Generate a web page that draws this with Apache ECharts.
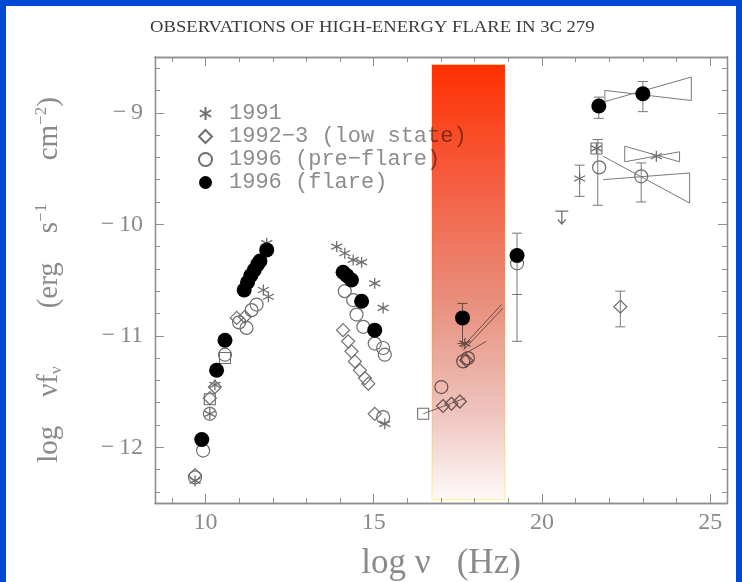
<!DOCTYPE html>
<html>
<head>
<meta charset="utf-8">
<script src="https://cdn.jsdelivr.net/npm/echarts@6/dist/echarts.min.js"></script>
<style>
  html, body { margin: 0; padding: 0; background: #fff; }
  #main { width: 742px; height: 582px; }
</style>
</head>
<body>
<div id="main"></div>
<script>
// tick labels
const xMajor = [10, 15, 20, 25];
const yMajor = [-12, -11, -10, -9];

// 1996 (flare) - filled circles
const flare = [
  [9.89, -11.93], [10.33, -11.31], [10.58, -11.04], [11.15, -10.59], [11.25, -10.52],
  [11.35, -10.46], [11.45, -10.41], [11.55, -10.36], [11.62, -10.33], [11.82, -10.23],
  [14.09, -10.43], [14.2, -10.46], [14.34, -10.5], [14.64, -10.69], [15.03, -10.95],
  [17.64, -10.84], [19.26, -10.28], [21.69, -8.94], [23.0, -8.83]
];
// 1996 (pre-flare) - open circles
const preFlare = [
  [9.69, -12.27], [9.93, -12.03], [10.13, -11.7], [10.58, -11.17], [11.0, -10.88],
  [11.22, -10.93], [11.37, -10.77], [11.52, -10.72], [14.14, -10.6], [14.39, -10.68],
  [14.49, -10.81], [14.69, -10.92], [15.03, -11.07], [15.28, -11.11], [15.33, -11.17],
  [15.28, -11.73], [17.01, -11.46], [17.66, -11.23], [17.8, -11.2], [19.26, -10.35],
  [21.7, -9.49], [22.95, -9.57]
];
// 1992-3 (low state) - open diamonds
const lowState = [
  [9.69, -12.25], [10.13, -11.56], [10.28, -11.46], [10.93, -10.84], [11.17, -10.83],
  [14.09, -10.95], [14.24, -11.05], [14.34, -11.14], [14.44, -11.23], [14.59, -11.31],
  [14.74, -11.38], [14.84, -11.43], [15.03, -11.7], [17.06, -11.63], [17.31, -11.61],
  [17.56, -11.59], [17.75, -11.22], [22.33, -10.74]
];
// 1991 - asterisks
const y1991 = [
  [9.69, -12.3], [10.13, -11.7], [10.28, -11.44], [11.72, -10.59], [11.87, -10.65],
  [11.82, -10.17], [13.9, -10.2], [14.14, -10.26], [14.39, -10.32], [14.64, -10.34],
  [15.03, -10.53], [15.28, -10.75], [15.33, -11.79], [17.71, -11.07], [21.12, -9.59],
  [21.62, -9.32], [23.4, -9.39]
];
// other symbols
const squares = [[10.13, -11.57], [10.58, -11.2], [16.47, -11.7], [21.62, -9.32]];
const upperLimit = [[20.59, -9.94]];

// error bars: x, low, high
const errBars = [
  [17.64, -11.07, -10.71], [19.26, -11.05, -10.08], [19.26, -10.63, -10.63],
  [21.69, -9.05, -8.86], [23.0, -8.99, -8.72], [21.66, -9.83, -9.24],
  [21.12, -9.75, -9.47], [22.95, -9.8, -9.45], [22.33, -10.92, -10.6]
];

// spectral slopes (bow ties)
const bowFlare = [[21.87, -8.8], [24.44, -8.89], [24.44, -8.68], [21.87, -8.9], [21.87, -8.8]];
const bow1991 = [[22.46, -9.3], [24.09, -9.44], [24.09, -9.35], [22.46, -9.44], [22.46, -9.3]];
const bowPre = [[21.82, -9.39], [24.39, -9.81], [24.39, -9.54], [21.82, -9.6]];
const xrayA = [[17.61, -11.11], [18.8, -10.72]];
const xrayB = [[17.66, -11.13], [18.85, -10.75]];
const xrayC = [[17.71, -11.16], [18.35, -11.05]];
const lowLine = [[16.47, -11.7], [17.71, -11.56]];

// shaded band
const bandX = [16.73, 18.9];
const bandY = [-12.47, -8.57];

const xMinor = [], yMinor = [];
for (let v = 9; v <= 25; v++) if (v % 5) xMinor.push(v);
for (let i = -62; i <= -43; i++) if (i % 5) yMinor.push(i / 5);

const chart = echarts.init(document.getElementById('main'));

const frame = '#8e8e8e';
const openCol = '#6e6e6e';
const serif = 'Liberation Serif';
const starPath = 'path://M0,-1L0,1M-0.87,-0.5L0.87,0.5M-0.87,0.5L0.87,-0.5';
const arrowPath = 'path://M-1,-1L1,-1M0,-1L0,1M-0.6,0.3L0,1L0.6,0.3';

function xAx(pos, ticks, len, labels) {
  return {
    type: 'value', position: pos, min: 8.5, max: 25.5,
    axisLine: { show: true, lineStyle: { color: frame, width: 1.3 } },
    axisTick: { show: true, inside: true, length: len, customValues: ticks, lineStyle: { color: frame } },
    axisLabel: labels ? {
      show: true, customValues: ticks, margin: 8,
      color: '#8a8a8a', fontFamily: serif, fontSize: 24
    } : { show: false },
    splitLine: { show: false }
  };
}
function yAx(pos, ticks, len, labels) {
  return {
    type: 'value', position: pos, min: -12.5, max: -8.5,
    axisLine: { show: true, lineStyle: { color: frame, width: 1.3 } },
    axisTick: { show: true, inside: true, length: len, customValues: ticks, lineStyle: { color: frame } },
    axisLabel: labels ? {
      show: true, customValues: ticks, margin: 12,
      color: '#8a8a8a', fontFamily: serif, fontSize: 24,
      formatter: v => String(v).replace('-', '\u2212\u2009')
    } : { show: false },
    splitLine: { show: false }
  };
}

const xAxes = [xAx('bottom', xMajor, 9, true), xAx('bottom', xMinor, 5), xAx('top', xMajor, 9), xAx('top', xMinor, 5)];
xAxes[0].name = 'log \u03bd   (Hz)';
xAxes[0].nameLocation = 'middle';
xAxes[0].nameGap = 43;
xAxes[0].nameTextStyle = { fontFamily: serif, fontSize: 35, color: '#8a8a8a' };

const yAxes = [yAx('left', yMajor, 9, true), yAx('left', yMinor, 5), yAx('right', yMajor, 9), yAx('right', yMinor, 5)];
yAxes[0].name = '{n|log    \u03bdf}{s|\u03bd}{n|        (erg    s}{p|\u22121}{n|      cm}{p|\u22122}{n|)}';
yAxes[0].nameLocation = 'middle';
yAxes[0].nameGap = 90;
yAxes[0].nameTextStyle = {
  color: '#8a8a8a',
  rich: {
    n: { fontFamily: serif, fontSize: 29, color: '#8a8a8a', lineHeight: 32 },
    s: { fontFamily: serif, fontSize: 17, color: '#8a8a8a', verticalAlign: 'bottom', lineHeight: 17 },
    p: { fontFamily: serif, fontSize: 17, color: '#8a8a8a', verticalAlign: 'top', lineHeight: 17 }
  }
};

function lineSeries(data) {
  return {
    type: 'line', data: data, symbol: 'none', silent: true, z: 3,
    lineStyle: { color: '#7a7a7a', width: 1 }
  };
}

chart.setOption({
  animation: false,
  backgroundColor: '#fff',
  grid: { left: 155, right: 15, top: 57, bottom: 79, outerBoundsMode: 'none' },
  xAxis: xAxes,
  yAxis: yAxes,
  legend: {
    orient: 'vertical', left: 193, top: 97, z: 1,
    itemWidth: 13, itemHeight: 13, itemGap: 0,
    data: ['1991', '1992\u22123 (low state)', '1996 (pre\u2212flare)', '1996 (flare)'],
    textStyle: { fontFamily: 'Liberation Mono', fontSize: 22, color: '#8c8c8c', lineHeight: 23, padding: [0, 0, 0, 12] }
  },
  graphic: [
    { type: 'text', x: 150, y: 20, scaleX: 1.165, style: { text: 'OBSERVATIONS OF HIGH-ENERGY FLARE IN 3C 279', fontFamily: serif, fontSize: 16, fill: '#3a3a3a' } },
    { type: 'rect', shape: { x: 0, y: 0, width: 6, height: 582 }, style: { fill: '#0049d6' }, z: 100 },
    { type: 'rect', shape: { x: 0, y: 0, width: 742, height: 6 }, style: { fill: '#0049d6' }, z: 100 },
    { type: 'rect', shape: { x: 736, y: 0, width: 6, height: 582 }, style: { fill: '#0049d6' }, z: 100 }
  ],
  series: [
    {
      name: '1991', type: 'scatter', data: y1991, symbol: starPath, symbolSize: 11, z: 4,
      itemStyle: { color: 'rgba(0,0,0,0)', borderColor: openCol, borderWidth: 1.3, opacity: 1 }
    },
    {
      name: '1992\u22123 (low state)', type: 'scatter', data: lowState, symbol: 'diamond', symbolSize: 13, z: 4,
      itemStyle: { color: 'rgba(0,0,0,0)', borderColor: openCol, borderWidth: 1.2, opacity: 1 }
    },
    {
      name: '1996 (pre\u2212flare)', type: 'scatter', data: preFlare, symbol: 'circle', symbolSize: 13, z: 4,
      itemStyle: { color: 'rgba(0,0,0,0)', borderColor: openCol, borderWidth: 1.2, opacity: 1 }
    },
    {
      name: '1996 (flare)', type: 'scatter', data: flare, symbol: 'circle', symbolSize: 15, z: 5,
      itemStyle: { color: '#000', opacity: 1 }
    },
    {
      name: 'square', type: 'scatter', data: squares, symbol: 'rect', symbolSize: 11, z: 4,
      itemStyle: { color: 'rgba(0,0,0,0)', borderColor: openCol, borderWidth: 1.1, opacity: 1 }
    },
    {
      name: 'limit', type: 'scatter', data: upperLimit, symbol: arrowPath, symbolSize: [13, 13], z: 4,
      itemStyle: { color: 'rgba(0,0,0,0)', borderColor: openCol, borderWidth: 1.3, opacity: 1 }
    },
    {
      name: 'errors', type: 'custom', z: 3,
      data: errBars,
      encode: { x: 0, y: [1, 2] },
      renderItem: function (params, api) {
        const x = api.value(0);
        const lo = api.coord([x, api.value(1)]);
        const hi = api.coord([x, api.value(2)]);
        const w = 5;
        const st = { stroke: '#777', lineWidth: 1 };
        return {
          type: 'group',
          children: [
            { type: 'line', shape: { x1: lo[0], y1: lo[1], x2: hi[0], y2: hi[1] }, style: st },
            { type: 'line', shape: { x1: lo[0] - w, y1: lo[1], x2: lo[0] + w, y2: lo[1] }, style: st },
            { type: 'line', shape: { x1: hi[0] - w, y1: hi[1], x2: hi[0] + w, y2: hi[1] }, style: st }
          ]
        };
      }
    },
    lineSeries(bowFlare), lineSeries(bow1991), lineSeries(bowPre),
    lineSeries(xrayA), lineSeries(xrayB), lineSeries(xrayC), lineSeries(lowLine),
    {
      name: 'band', type: 'custom', z: 20, silent: true,
      blendMode: 'multiply',
      data: [[bandX[0], bandX[1], bandY[0], bandY[1]]],
      renderItem: function (params, api) {
        const p0 = api.coord([api.value(0), api.value(3)]);
        const p1 = api.coord([api.value(1), api.value(2)]);
        return {
          type: 'rect',
          shape: { x: p0[0], y: p0[1], width: p1[0] - p0[0], height: p1[1] - p0[1] },
          style: {
            fill: {
              type: 'linear', x: 0, y: 0, x2: 0, y2: 1,
              colorStops: [
                { offset: 0, color: '#ff3000' },
                { offset: 0.25, color: '#f65a3c' },
                { offset: 0.55, color: '#e8907e' },
                { offset: 0.8, color: '#eec4be' },
                { offset: 1, color: '#fdfafa' }
              ]
            },
            stroke: '#fff4a6', lineWidth: 1.2
          }
        };
      }
    }
  ]
});
</script>
</body>
</html>
